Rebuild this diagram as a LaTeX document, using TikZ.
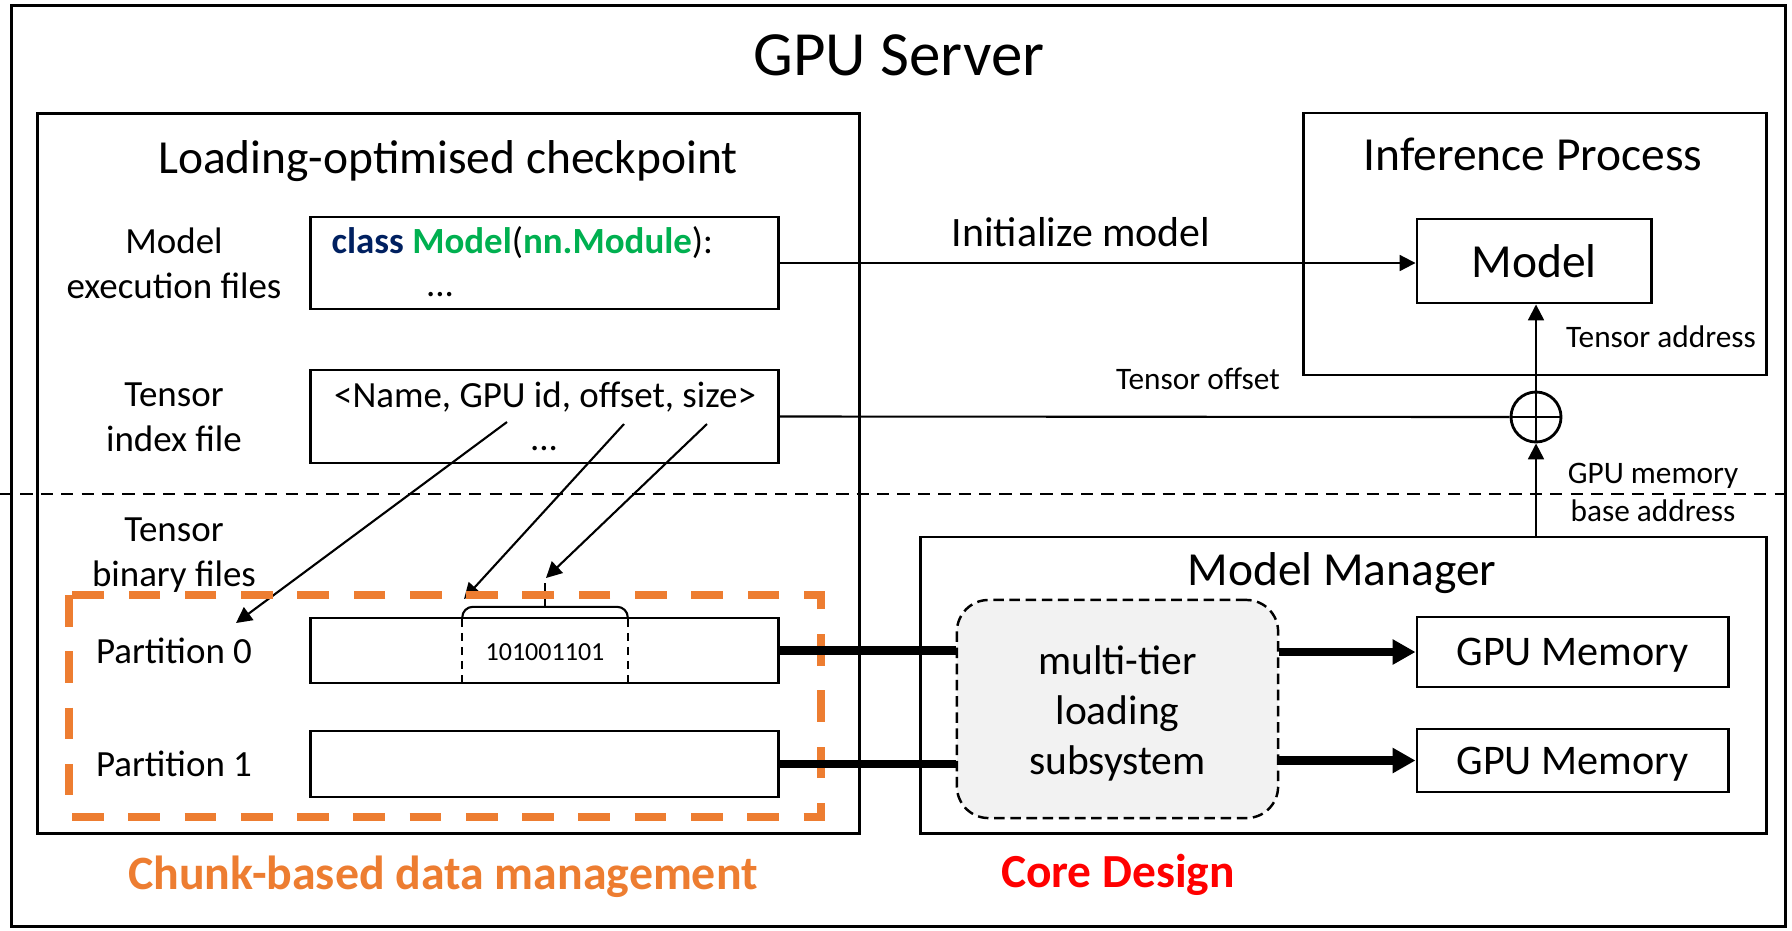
\documentclass[tikz,border=0pt]{standalone}
\usepackage{fontspec}
\setmainfont{Carlito}
\usetikzlibrary{arrows.meta,positioning}
\definecolor{chunkorange}{HTML}{ED7D31}
\definecolor{codeblue}{HTML}{002060}
\definecolor{codegreen}{HTML}{00B050}
\definecolor{loadgray}{HTML}{F2F2F2}

\begin{document}
\begin{tikzpicture}[
  x=0.01cm, y=-0.01cm,
  box/.style={
    draw, line width=0.8pt, inner sep=0pt
  },
  txt/.style={
    inner sep=0pt, align=center, font=\fontsize{10.5}{12.8}\selectfont
  },
  heading/.style={
    inner sep=0pt, font=\fontsize{13.5}{16}\selectfont
  },
  note/.style={
    inner sep=0pt, align=center, font=\fontsize{8.9}{10.8}\selectfont
  },
  link/.style={
    line width=0.6pt, -{Triangle[length=4.5pt,width=4.5pt]}
  },
  thicklink/.style={
    line width=2.3pt, -{Triangle[length=6.5pt,width=6.8pt]}
  }
]
\useasboundingbox (0,0) rectangle (1792,930);

% frames
\node [box, minimum width=17.73cm, minimum height=9.20cm] (server) at (898.5,466) {};
\node [font=\fontsize{17.9}{20}\selectfont, inner sep=0pt] (servertitle) at (899,55) {GPU Server};

\node [box, minimum width=8.21cm, minimum height=7.19cm] (ckpt) at (448.5,473.5) {};
\node [heading] (ckpttitle) at (448,161) {Loading-optimised checkpoint};

\node [box, minimum width=4.62cm, minimum height=2.62cm] (infer) at (1535,244) {};
\node [heading] (infertitle) at (1533,154) {Inference Process};

\node [box, minimum width=8.45cm, minimum height=2.96cm] (manager) at (1343.5,685) {};
\node [heading] (managertitle) at (1342,573) {Model Manager};

% dashed split line
\draw [line width=0.6pt, dash pattern=on 3.5pt off 2.3pt] (0,494) -- (1792,494);

% checkpoint contents
\node [txt] (execlbl) at (174,263) {Model\\execution files};
\node [box, minimum width=4.67cm, minimum height=0.92cm] (code) at (544.5,263) {};
\node [txt, anchor=west] (codeline) at (331,243)
  {\textbf{\textcolor{codeblue}{class}} \textbf{\textcolor{codegreen}{Model}}(\textbf{\textcolor{codegreen}{nn.Module}}):};
\node [txt, anchor=base] (codedots) at (440,296) {...};

\node [txt] (indexlbl) at (174,417) {Tensor\\index file};
\node [box, minimum width=4.67cm, minimum height=0.93cm] (index) at (544.5,416.5) {};
\node [txt] (indexline) at (545,397) {<Name, GPU id, offset, size>};
\node [txt, anchor=base] (indexdots) at (544,450) {...};

\node [txt] (binlbl) at (174,555) {Tensor\\binary files};
\node [txt] (p0lbl) at (174,651) {Partition 0};
\node [txt] (p1lbl) at (174,764) {Partition 1};
\node [box, minimum width=4.67cm, minimum height=0.65cm] (part0) at (544.5,650.5) {};
\node [box, minimum width=4.67cm, minimum height=0.66cm] (part1) at (544.5,764) {};

% chunk inside partition 0
\node [inner sep=0pt, minimum width=1.64cm, minimum height=0.65cm,
       font=\fontsize{7.4}{9}\selectfont] (chunk) at (545,652) {101001101};
\draw [line width=0.6pt, dash pattern=on 2.4pt off 1.6pt]
      (chunk.north west) -- (chunk.south west)
      (chunk.north east) -- (chunk.south east);
\draw [line width=0.6pt, rounded corners=3pt]
      (chunk.north west) |- ([yshift=3.4pt]chunk.north east) -- (chunk.north east);
\coordinate (chunkbase) at ([yshift=3.4pt]chunk.north);
\coordinate (chunkstem) at (545,583);
\draw [line width=0.6pt] (chunkbase) -- (chunkstem);

\coordinate (nameP) at (507,422);
\coordinate (offsetP) at (624,424);
\coordinate (sizeP) at (707,424);
\coordinate (p0tip) at (236,623);
\coordinate (chunkleft) at (464,599);
\coordinate (chunktip) at (546,578);

\path [link]
  (nameP) edge (p0tip)
  (offsetP) edge (chunkleft)
  (sizeP) edge (chunktip);

% chunk-based data management frame
\draw [chunkorange, line width=2.3pt, dash pattern=on 9pt off 7pt]
      (69,595) rectangle (821,817);

% inference process
\node [box, minimum width=2.34cm, minimum height=0.84cm, font=\fontsize{13.5}{16}\selectfont] (model) at (1534,261) {Model};
\node [draw, circle, line width=0.8pt, minimum size=0.5cm, inner sep=0pt] (plus) at (1536,417) {};
\draw [line width=0.6pt] (plus.north) -- (plus.south) (plus.west) -- (plus.east);

\draw [link] (code.east) -- (model.west |- code.east);
\node [inner sep=0pt, font=\fontsize{11.9}{14}\selectfont] (initlbl) at (1081,232) {Initialize model};
\draw [line width=0.6pt] (index.east) -- (plus.west);
\node [note] (offsetlbl) at (1198,379) {Tensor offset};
\draw [link] (plus.north) -- (plus.north |- model.south);
\node [note] (addrlbl) at (1661,337) {Tensor address};
\draw [link] (plus.south |- manager.north) -- (plus.south);
\node [note] (baselbl) at (1653,492) {GPU memory\\base address};

% model manager
\node [draw, dash pattern=on 3pt off 1.6pt, line width=0.7pt, fill=loadgray, rounded corners=9pt,
       minimum width=3.21cm, minimum height=2.18cm, inner sep=0pt] (loader) at (1117.5,709) {};
\node [inner sep=0pt, align=center, font=\fontsize{11.8}{14.2}\selectfont] (loadtxt) at (1117.5,713) {multi-tier\\loading\\subsystem};
\node [box, minimum width=3.11cm, minimum height=0.70cm, text depth=0pt, font=\fontsize{12}{14}\selectfont] (gpu0) at (1572.5,652) {GPU Memory};
\node [box, minimum width=3.11cm, minimum height=0.63cm, text depth=0pt, font=\fontsize{12}{14}\selectfont] (gpu1) at (1572.5,760.5) {GPU Memory};

\draw [line width=2.3pt] (part0.east) -- (loader.west |- part0.east);
\draw [line width=2.3pt] (part1.east) -- (loader.west |- part1.east);
\draw [thicklink] (loader.east |- gpu0.west) -- (gpu0.west);
\draw [thicklink] (loader.east |- gpu1.west) -- (gpu1.west);

% captions
\node [inner sep=0pt, text=chunkorange, font=\bfseries\fontsize{13.6}{16}\selectfont] (chunkcap) at (443,877) {Chunk-based data management};
\node [inner sep=0pt, text=red, font=\bfseries\fontsize{13.5}{16}\selectfont] (corecap) at (1118,875) {Core Design};
\end{tikzpicture}
\end{document}
